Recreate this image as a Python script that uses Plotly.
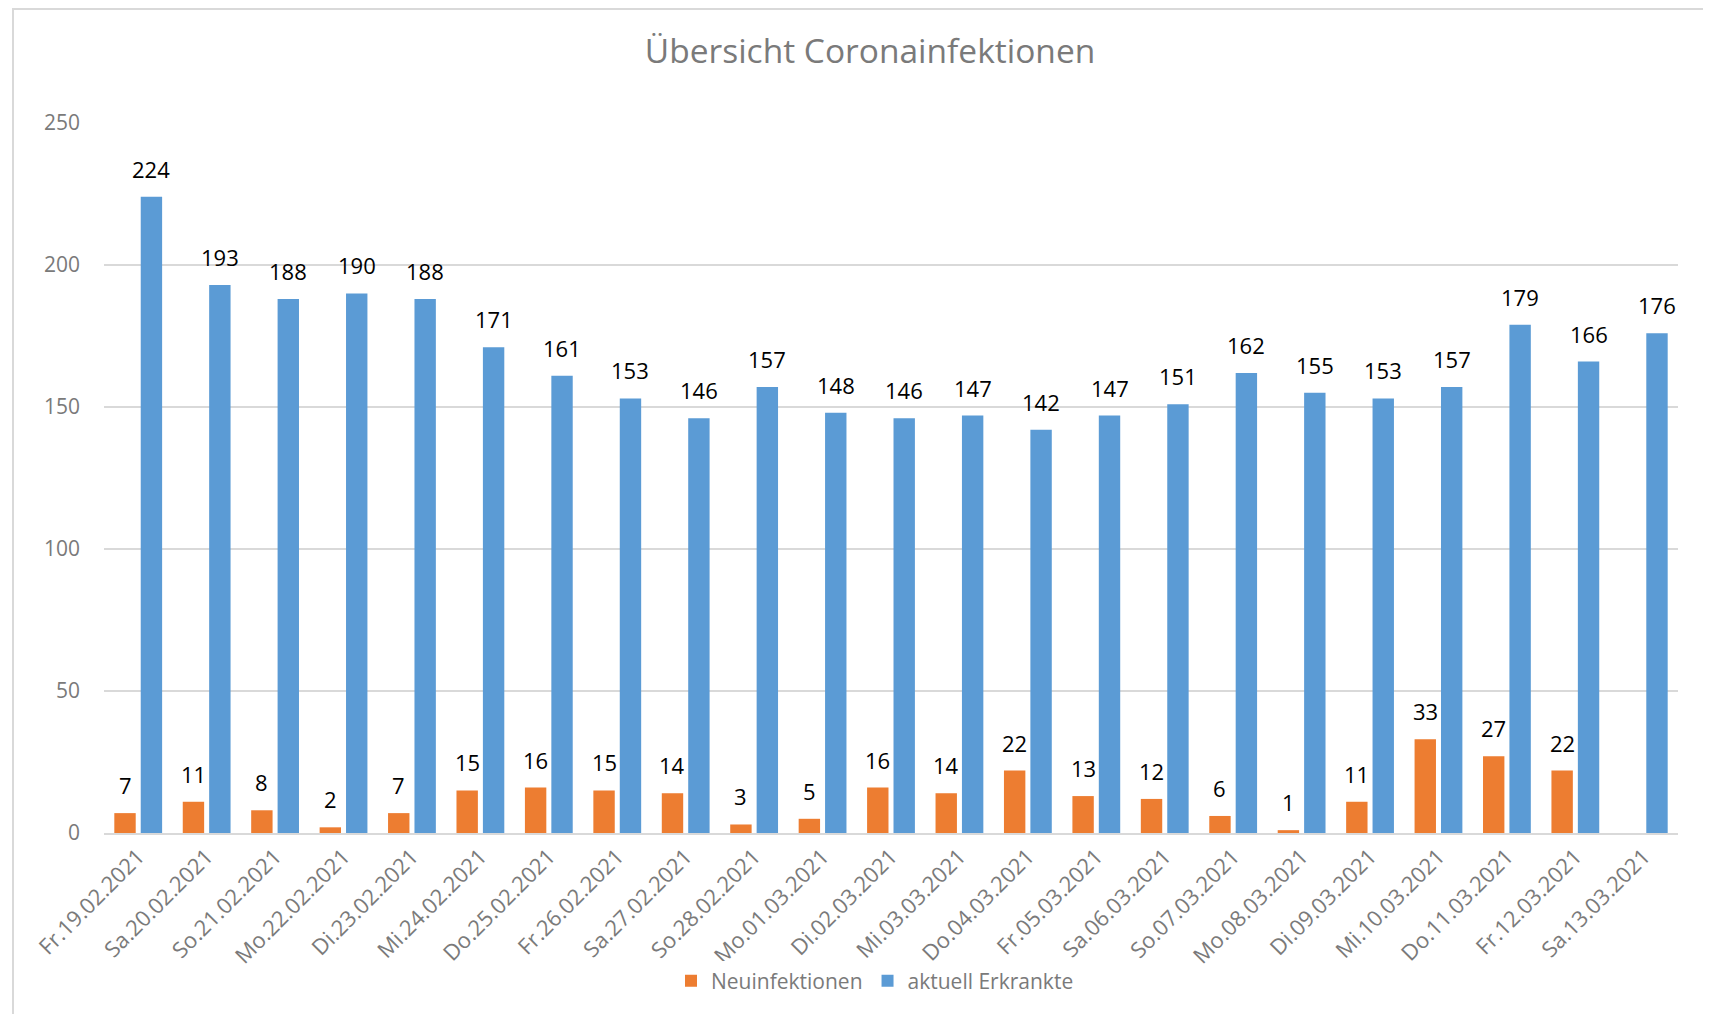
import plotly.graph_objects as go

dates = ["Fr.19.02.2021", "Sa.20.02.2021", "So.21.02.2021", "Mo.22.02.2021", "Di.23.02.2021",
         "Mi.24.02.2021", "Do.25.02.2021", "Fr.26.02.2021", "Sa.27.02.2021", "So.28.02.2021",
         "Mo.01.03.2021", "Di.02.03.2021", "Mi.03.03.2021", "Do.04.03.2021", "Fr.05.03.2021",
         "Sa.06.03.2021", "So.07.03.2021", "Mo.08.03.2021", "Di.09.03.2021", "Mi.10.03.2021",
         "Do.11.03.2021", "Fr.12.03.2021", "Sa.13.03.2021"]
neuinfektionen = [7, 11, 8, 2, 7, 15, 16, 15, 14, 3, 5, 16, 14, 22, 13, 12, 6, 1, 11, 33, 27, 22, None]
erkrankte = [224, 193, 188, 190, 188, 171, 161, 153, 146, 157, 148, 146, 147, 142, 147, 151, 162,
             155, 153, 157, 179, 166, 176]
y_ticks = [0, 50, 100, 150, 200, 250]

ORANGE = "#ED7D31"
BLUE = "#5B9BD5"
GRAY = "#7a7a7a"
FONT = "Open Sans"

W, H = 1711, 1014
OFF = 8  # page body margin
ml, mr, mt, mb = 104 - OFF, 33 + OFF, 123 - OFF, 181 + OFF
pw = W - ml - mr
ph = H - mt - mb
bargap = 0.228
shift = (1 - bargap) / 4 * pw / len(dates)

fig = go.Figure()
fig.add_bar(x=dates, y=neuinfektionen, name="Neuinfektionen", marker_color=ORANGE,
            marker_line_width=0)
fig.add_bar(x=dates, y=erkrankte, name="aktuell Erkrankte", marker_color=BLUE,
            marker_line_width=0)

annotations = []
for d, v in zip(dates, neuinfektionen):
    if v is not None:
        annotations.append(dict(x=d, y=v, xref="x", yref="y", text=str(v), showarrow=False,
                                xshift=-shift, yshift=11, yanchor="bottom",
                                font=dict(family=FONT, size=22, color="#000000")))
for d, v in zip(dates, erkrankte):
    annotations.append(dict(x=d, y=v, xref="x", yref="y", text=str(v), showarrow=False,
                            xshift=shift, yshift=11, yanchor="bottom",
                            font=dict(family=FONT, size=22, color="#000000")))

fig.update_layout(
    width=W, height=H,
    margin=dict(l=ml, r=mr, t=mt, b=mb, autoexpand=False),
    paper_bgcolor="white", plot_bgcolor="white",
    barmode="group", bargap=bargap, bargroupgap=0.19,
    title=dict(text="Übersicht Coronainfektionen", x=(870 - OFF) / W, xanchor="center",
               y=1 - (51 - OFF) / H, yanchor="middle",
               font=dict(family=FONT, size=33.5, color=GRAY)),
    font=dict(family=FONT, color=GRAY),
    showlegend=True,
    legend=dict(orientation="h", x=(875 - OFF - ml) / pw, xanchor="center",
                y=(mt + ph - (981 - OFF)) / ph, yanchor="middle",
                font=dict(family=FONT, size=21, color=GRAY),
                itemwidth=30, traceorder="normal"),
    annotations=annotations,
    xaxis=dict(type="category", tickangle=-45, tickfont=dict(family=FONT, size=22, color=GRAY),
               showline=True, linecolor="#d9d9d9", linewidth=2, ticks="", showgrid=False,
               automargin=False),
    yaxis=dict(range=[0, 250], tickvals=y_ticks, tickfont=dict(family=FONT, size=21, color=GRAY),
               showgrid=True, gridcolor="#d9d9d9", gridwidth=2, zeroline=False,
               showline=False, ticks="", ticklabelstandoff=23, automargin=False),
    shapes=[dict(type="rect", xref="paper", yref="paper",
                 x0=(13 - OFF - ml) / pw, x1=(W + 20 - ml) / pw,
                 y0=(mt + ph - (H + 20)) / ph, y1=(mt + ph - (9 - OFF)) / ph,
                 line=dict(color="#d9d9d9", width=2), fillcolor="rgba(0,0,0,0)",
                 layer="below")],
)

fig.write_html("out.html")
